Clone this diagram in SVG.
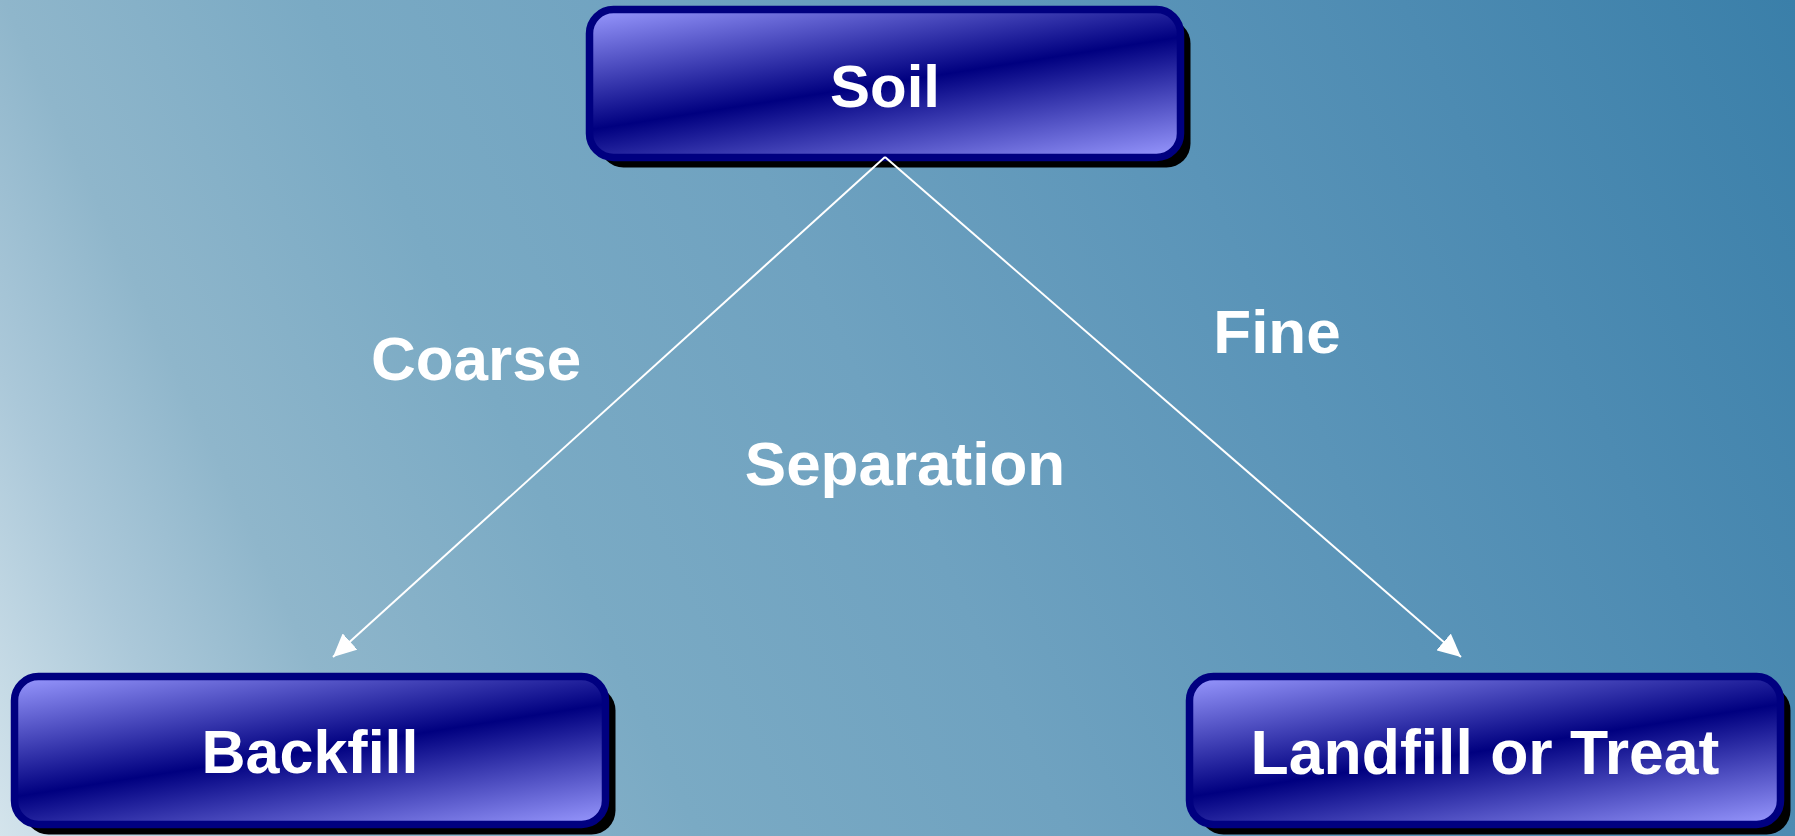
<svg xmlns="http://www.w3.org/2000/svg" width="1795" height="836" viewBox="0 0 1795 836">
  <defs>
    <linearGradient id="bg" gradientUnits="userSpaceOnUse" x1="0" y1="836" x2="1795" y2="0">
      <stop offset="0" stop-color="#d4e4ec"/>
      <stop offset="0.1" stop-color="#abc8d9"/>
      <stop offset="0.18" stop-color="#8fb6cb"/>
      <stop offset="0.32" stop-color="#7aaac4"/>
      <stop offset="0.49" stop-color="#6fa2c0"/>
      <stop offset="0.69" stop-color="#5a94b8"/>
      <stop offset="0.82" stop-color="#4d8bb2"/>
      <stop offset="1" stop-color="#3a7fa9"/>
    </linearGradient>
    <linearGradient id="boxfill" x1="0" y1="0" x2="0.732" y2="1.168">
      <stop offset="0" stop-color="#9999ff"/>
      <stop offset="0.5" stop-color="#000080"/>
      <stop offset="1" stop-color="#9999ff"/>
    </linearGradient>
    <marker id="arrow" markerUnits="userSpaceOnUse" markerWidth="24" markerHeight="22" refX="23" refY="11" orient="auto">
      <path d="M0,0 L23,11 L0,22 Z" fill="#ffffff"/>
    </marker>
    <style>
      .shadow { fill: #000000; }
      .box { fill: url(#boxfill); stroke: #000080; stroke-width: 7.5; }
      .nodetext { font-family: "Liberation Sans", Arial, sans-serif; font-weight: bold; font-size: 61px; fill: #ffffff; text-anchor: middle; }
      .label { font-family: "Liberation Sans", Arial, sans-serif; font-weight: bold; font-size: 62px; fill: #ffffff; text-anchor: middle; }
      .conn { stroke: #ffffff; stroke-width: 2; fill: none; marker-end: url(#arrow); }
    </style>
  </defs>

  <rect x="0" y="0" width="1795" height="836" fill="url(#bg)"/>

  <g id="labels">
    <text class="label" x="476" y="380">Coarse</text>
    <text class="label" x="1277" y="353">Fine</text>
    <text class="label" x="905" y="485">Separation</text>
  </g>

  <g id="node-soil">
    <rect class="shadow" x="599.5" y="19.5" width="591" height="148" rx="24"/>
    <rect class="box" x="589.5" y="9.5" width="591" height="148" rx="24"/>
    <text class="nodetext" x="885" y="107" style="font-size:60px">Soil</text>
  </g>

  <g id="node-backfill">
    <rect class="shadow" x="24.5" y="686.5" width="591" height="148" rx="24"/>
    <rect class="box" x="14.5" y="676.5" width="591" height="148" rx="24"/>
    <text class="nodetext" x="310" y="773">Backfill</text>
  </g>

  <g id="node-landfill">
    <rect class="shadow" x="1199.5" y="686.5" width="591" height="148" rx="24"/>
    <rect class="box" x="1189.5" y="676.5" width="591" height="148" rx="24"/>
    <text class="nodetext" x="1485" y="774" style="font-size:62.5px">Landfill or Treat</text>
  </g>

  <g id="connectors">
    <line class="conn" x1="885" y1="157" x2="333" y2="657"/>
    <line class="conn" x1="885" y1="157" x2="1461" y2="657"/>
  </g>
</svg>
